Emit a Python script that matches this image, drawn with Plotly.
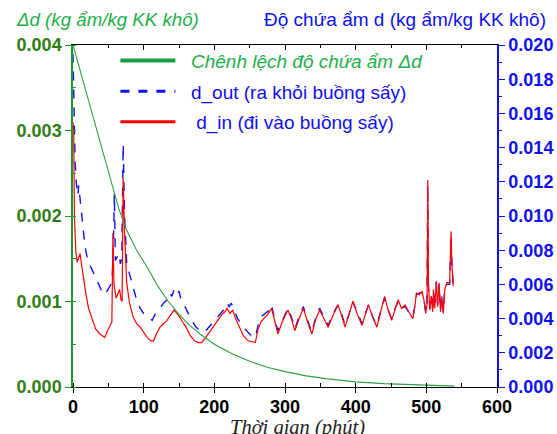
import plotly.graph_objects as go

# ---- data ----
t_delta = [0, 4, 10, 20, 35, 50, 65, 75, 90, 105, 120, 135, 150, 165, 180, 200, 225, 250, 275, 300,
           330, 360, 400, 440, 480, 510, 540]
delta_d = [0.0040, 0.00388, 0.0037, 0.00342, 0.00298, 0.00252, 0.00208, 0.00185, 0.0016, 0.0014, 0.00118,
           0.0010, 0.00085, 0.00072, 0.00062, 0.0005, 0.00039, 0.00030, 0.00023, 0.00018, 0.00013,
           0.000095, 0.00006, 0.00004, 0.000025, 0.000015, 0.00001]

t_out = [0, 1.5, 3, 5, 7, 8, 10, 13, 17, 21, 29, 36, 43, 48, 55, 57, 58.5, 60, 62, 65, 67, 69, 71, 73,
         76, 80, 85, 90, 95, 100, 106, 112, 118, 123, 128, 133, 137, 140, 143, 147, 150, 153, 156, 162,
         168, 174, 180, 186, 190, 196, 202, 208, 213, 218, 221, 224, 228, 233, 239, 245, 252, 258, 262,
         266, 272, 278, 281, 285, 290, 296, 300, 304, 309, 314, 319, 323, 326, 332, 338, 343, 349, 355,
         361, 368, 375, 380, 385, 391, 396, 402, 409, 414, 418, 424, 430, 436, 441, 446, 451, 456, 460,
         465, 470, 475, 481, 484, 486, 490, 494, 497, 499, 501, 502, 503, 505, 507, 509, 510, 512, 514,
         516, 518, 520, 522, 524, 526, 529, 533, 535, 536, 538]
d_out = [0.0195, 0.0170, 0.0131, 0.0118, 0.0112, 0.0118, 0.0110, 0.0098, 0.0082, 0.0074, 0.0067, 0.0060,
         0.0054, 0.0056, 0.0061, 0.0078, 0.0113, 0.0074, 0.0076, 0.0078, 0.0072, 0.0075, 0.0142, 0.0100,
         0.0072, 0.0066, 0.0058, 0.0051, 0.0046, 0.0043, 0.0041, 0.0039, 0.0044, 0.0046, 0.0049, 0.0051,
         0.0055, 0.0053, 0.0057, 0.0054, 0.0056, 0.0051, 0.0049, 0.0044, 0.0039, 0.0035, 0.0033, 0.0032,
         0.0034, 0.0037, 0.0040, 0.0043, 0.0045, 0.0049, 0.0047, 0.0049, 0.0045, 0.0040, 0.0036, 0.0033,
         0.0030, 0.0029, 0.0036, 0.0041, 0.0043, 0.0045, 0.0048, 0.0040, 0.0033, 0.0039, 0.0043, 0.0046,
         0.0041, 0.0034, 0.0040, 0.0044, 0.0047, 0.0039, 0.0032, 0.0040, 0.0046, 0.0041, 0.0036, 0.0043,
         0.0048, 0.0043, 0.0036, 0.0043, 0.0050, 0.0044, 0.0037, 0.0043, 0.0048, 0.0041, 0.0036, 0.0045,
         0.0052, 0.0045, 0.0040, 0.0046, 0.0050, 0.0046, 0.0047, 0.0044, 0.0041, 0.0048, 0.0054, 0.0055,
         0.0055, 0.0050, 0.0044, 0.0048, 0.0118, 0.0058, 0.0046, 0.0053, 0.0045, 0.0056, 0.0047, 0.0061,
         0.0048, 0.0060, 0.0045, 0.0053, 0.0044, 0.0056, 0.0060, 0.0060, 0.0088, 0.0073, 0.0059]

t_in = [0, 1, 2, 4, 6, 8, 10, 12, 15, 18, 22, 27, 32, 38, 45, 49, 53, 55, 56.5, 58, 61, 64, 66, 68, 69.5,
        71, 73, 76, 80, 85, 90, 95, 100, 105, 110, 114, 118, 123, 128, 133, 138, 143, 147, 151, 155, 160,
        166, 172, 177, 182, 188, 193, 198, 204, 210, 215, 218, 222, 226, 230, 235, 241, 248, 255, 258,
        262, 266, 270, 275, 281, 285, 290, 296, 300, 304, 309, 314, 319, 323, 326, 332, 338, 343, 349,
        355, 361, 368, 375, 380, 385, 391, 396, 402, 409, 414, 418, 424, 430, 436, 441, 446, 451, 456,
        460, 465, 470, 475, 481, 484, 486, 490, 494, 497, 499, 501, 502, 503, 505, 507, 509, 510, 512,
        514, 516, 518, 520, 522, 524, 526, 529, 533, 535, 536, 538]
d_in = [0.0155, 0.0150, 0.0100, 0.0079, 0.0073, 0.0076, 0.0078, 0.0072, 0.0062, 0.0055, 0.0046, 0.0040,
        0.0034, 0.0031, 0.0029, 0.0033, 0.0037, 0.0038, 0.0090, 0.0060, 0.0052, 0.0055, 0.0057, 0.0051,
        0.0050, 0.0122, 0.0090, 0.0061, 0.0049, 0.0041, 0.0037, 0.0035, 0.0032, 0.0029, 0.0027, 0.0027,
        0.0031, 0.0035, 0.0037, 0.0039, 0.0042, 0.0045, 0.0043, 0.0041, 0.0038, 0.0035, 0.0030, 0.0027,
        0.0026, 0.0026, 0.0029, 0.0032, 0.0035, 0.0038, 0.0042, 0.0044, 0.0046, 0.0043, 0.0045, 0.0040,
        0.0035, 0.0030, 0.0027, 0.0026, 0.0026, 0.0034, 0.0038, 0.0040, 0.0042, 0.0046, 0.0039, 0.0031,
        0.0038, 0.0042, 0.0045, 0.0040, 0.0033, 0.0039, 0.0043, 0.0046, 0.0038, 0.0031, 0.0039, 0.0045,
        0.0040, 0.0035, 0.0042, 0.0048, 0.0042, 0.0035, 0.0043, 0.0050, 0.0043, 0.0036, 0.0043, 0.0048,
        0.0041, 0.0035, 0.0045, 0.0053, 0.0045, 0.0039, 0.0046, 0.0051, 0.0046, 0.0048, 0.0044, 0.0040,
        0.0048, 0.0055, 0.0054, 0.0056, 0.0050, 0.0043, 0.0048, 0.0121, 0.0060, 0.0045, 0.0053, 0.0044,
        0.0057, 0.0046, 0.0062, 0.0047, 0.0061, 0.0044, 0.0053, 0.0043, 0.0057, 0.0061, 0.0061, 0.0091,
        0.0074, 0.0059]

x_ticks = [0, 100, 200, 300, 400, 500, 600]
left_ticks = [0.000, 0.001, 0.002, 0.003, 0.004]
right_ticks = [0.000, 0.002, 0.004, 0.006, 0.008, 0.010, 0.012, 0.014, 0.016, 0.018, 0.020]

name_delta = "Chênh lệch độ chứa ẩm Δd"
name_out = "d_out (ra khỏi buồng sấy)"
name_in = "d_in (đi vào buồng sấy)"

GREEN_LINE = "#2e9e44"
GREEN_TXT = "#1fae4b"
GREEN_TICK = "#2f7d12"
BLUE = "#1010ee"
RED = "#ff0000"

fig = go.Figure()

# data traces (legend handled by legend-only entries below)
fig.add_trace(go.Scatter(x=t_out, y=d_out, mode="lines", yaxis="y", showlegend=False,
                         line=dict(color=BLUE, width=1.4, dash="dash")))
fig.add_trace(go.Scatter(x=t_in, y=d_in, mode="lines", yaxis="y", showlegend=False,
                         line=dict(color=RED, width=1.2)))
fig.add_trace(go.Scatter(x=t_delta, y=delta_d, mode="lines", yaxis="y2", showlegend=False,
                         line=dict(color=GREEN_LINE, width=1.1)))

# legend entries with thicker sample lines
fig.add_trace(go.Scatter(x=[None], y=[None], mode="lines", xaxis="x2", yaxis="y",
                         name=f'<i><span style="color:{GREEN_TXT}">&nbsp;&nbsp;{name_delta}</span></i>',
                         legendgroup="a", line=dict(color="#17a040", width=4)))
fig.add_trace(go.Scatter(x=[None], y=[None], mode="lines", xaxis="x2", yaxis="y",
                         name=f'<span style="color:{BLUE}">&nbsp;&nbsp;{name_out}</span>',
                         legendgroup="b", line=dict(color=BLUE, width=3, dash="dash")))
fig.add_trace(go.Scatter(x=[None], y=[None], mode="lines", xaxis="x2", yaxis="y",
                         name=f'<span style="color:{BLUE}">&nbsp;&nbsp;&nbsp;{name_in}</span>',
                         legendgroup="c", line=dict(color=RED, width=3)))

tickfont_bold = dict(family="Liberation Sans, Arial", size=18, color="black", weight="bold")

fig.update_layout(
    width=557, height=434,
    margin=dict(l=73, r=60, t=45, b=47),
    paper_bgcolor="white", plot_bgcolor="white",
    font=dict(family="Liberation Sans, Arial", size=17),
    xaxis=dict(range=[0, 600], tickvals=x_ticks, ticktext=[str(v) for v in x_ticks],
               automargin=False, ticklabelstandoff=-2,
               showgrid=False, zeroline=False, showline=True, linecolor="black", linewidth=1.2,
               ticks="outside", ticklen=5, tickcolor="black", tickfont=tickfont_bold,
               minor=dict(dtick=50, ticks="inside", ticklen=4, tickcolor="black"),
               mirror=True),
    xaxis2=dict(range=[0, 600], overlaying="x", side="top", anchor="y", tickvals=x_ticks,
                automargin=False,
                showticklabels=False, showgrid=False, zeroline=False, showline=False,
                ticks="inside", ticklen=5, tickcolor="black",
                minor=dict(dtick=50, ticks="inside", ticklen=3, tickcolor="black")),
    yaxis=dict(range=[0, 0.020], side="right", tickvals=right_ticks, tickformat=".3f",
               automargin=False,
               showgrid=False, zeroline=False, showline=True, linecolor=BLUE, linewidth=1.5,
               ticks="outside", ticklen=6, tickcolor=BLUE,
               tickfont=dict(family="Liberation Sans, Arial", size=18, color=BLUE, weight="bold"),
               minor=dict(dtick=0.001, ticks="outside", ticklen=3, tickcolor=BLUE)),
    yaxis2=dict(range=[0, 0.004], side="left", overlaying="y", tickvals=left_ticks, tickformat=".3f",
                automargin=False,
                showgrid=False, zeroline=False, showline=True, linecolor="#1e9a2e", linewidth=1.5,
                ticks="outside", ticklen=6, tickcolor="#1e9a2e",
                tickfont=dict(family="Liberation Sans, Arial", size=18, color=GREEN_TICK, weight="bold"),
                minor=dict(dtick=0.0005, ticks="inside", ticklen=3, tickcolor="#1e9a2e")),
    legend=dict(x=0.1, y=1.01, xanchor="left", yanchor="top", bgcolor="rgba(0,0,0,0)",
                itemwidth=55, tracegroupgap=3, traceorder="grouped",
                font=dict(family="Liberation Sans, Arial", size=19)),
)

# place annotations in pixel terms (plot area: x 73..497, y 45..387)
def px_to_paper_x(px):
    return (px - 73) / 424.0

def px_to_paper_y(py):
    return (387 - py) / 342.0

fig.update_layout(annotations=[
    dict(text="<i>Δd (kg ẩm/kg KK khô)</i>", x=px_to_paper_x(14), y=px_to_paper_y(20),
         xref="paper", yref="paper", showarrow=False, font=dict(size=18.7, color=GREEN_TXT),
         xanchor="left", yanchor="middle"),
    dict(text="Độ chứa ẩm d (kg ẩm/kg KK khô)", x=px_to_paper_x(548), y=px_to_paper_y(20),
         xref="paper", yref="paper", showarrow=False, font=dict(size=19, color=BLUE),
         xanchor="right", yanchor="middle"),
    dict(text="<i>Thời gian (phút)</i>", x=px_to_paper_x(297), y=px_to_paper_y(427),
         xref="paper", yref="paper", showarrow=False,
         font=dict(family="Liberation Serif, Times New Roman", size=20.5, color="#222"),
         xanchor="center", yanchor="middle"),
])

# remove the browser's default 8px body margin so the figure sits at the window origin
fig.write_html("out.html", config={"displayModeBar": False},
               post_script="document.body.style.margin='0';")
